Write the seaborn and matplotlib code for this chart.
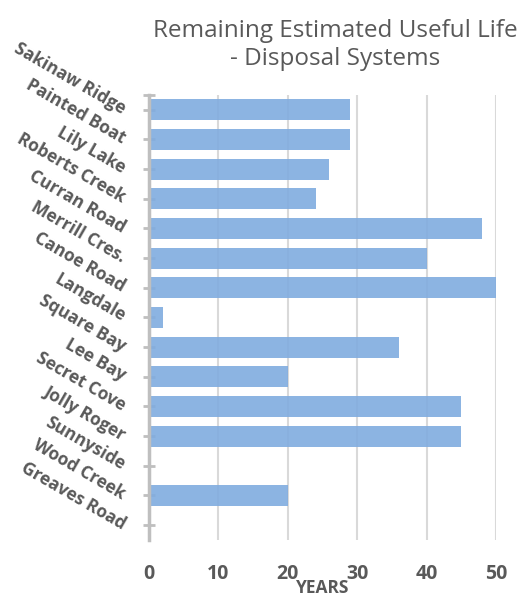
import pandas as pd
import seaborn as sns
import matplotlib.pyplot as plt

# data
systems = ['Sakinaw Ridge', 'Painted Boat', 'Lily Lake', 'Roberts Creek', 'Curran Road',
           'Merrill Cres.', 'Canoe Road', 'Langdale', 'Square Bay', 'Lee Bay',
           'Secret Cove', 'Jolly Roger', 'Sunnyside', 'Wood Creek', 'Greaves Road']
years = [29, 29, 26, 24, 48, 40, 50, 2, 36, 20, 45, 45, 0, 20, 0]
x_ticks = [0, 10, 20, 30, 40, 50]

df = pd.DataFrame({'system': systems, 'years': years})

sns.set_style('white')
plt.rcParams['font.family'] = ['Open Sans', 'DejaVu Sans']
grey = '#595959'

fig = plt.figure(figsize=(5.22, 6.03), dpi=100, facecolor='white')
ax = fig.add_axes([0.2854, 0.1045, 0.6648, 0.738])

sns.barplot(data=df, y='system', x='years', orient='h', color='#80acdf',
            alpha=0.9, width=0.7, linewidth=0, saturation=1, ax=ax)

ax.set_xlim(0, 50)
ax.set_ylim(14.5, -0.5)
ax.set_xticks(x_ticks)
ax.xaxis.grid(True, color='#d9d9d9', linewidth=1.5)
ax.set_axisbelow(True)

for s in ['top', 'right', 'bottom']:
    ax.spines[s].set_visible(False)
ax.spines['left'].set_color('#bfbfbf')
ax.spines['left'].set_linewidth(2.5)

ax.set_yticks(range(len(systems)))
ax.set_yticks([-0.5], minor=True)
ax.tick_params(axis='y', which='both', left=True, direction='inout', length=8, width=2,
               color='#bfbfbf', pad=14)
ax.tick_params(axis='x', length=0, pad=17)

ax.set_yticklabels(systems, rotation=-30, ha='right', va='center', rotation_mode='anchor',
                   fontsize=12.5, fontweight='bold', color=grey)
for lbl in ax.get_xticklabels():
    lbl.set_fontsize(14)
    lbl.set_fontweight('bold')
    lbl.set_color(grey)

ax.set_ylabel('')
ax.set_xlabel('YEARS', fontsize=12.5, fontweight='bold', color=grey, labelpad=-3)

fig.text(0.642, 0.968, 'Remaining Estimated Useful Life\n- Disposal Systems',
         ha='center', va='top', fontsize=17.5, color=grey, linespacing=1.2)

plt.savefig('out.png', dpi=100, facecolor='white')
